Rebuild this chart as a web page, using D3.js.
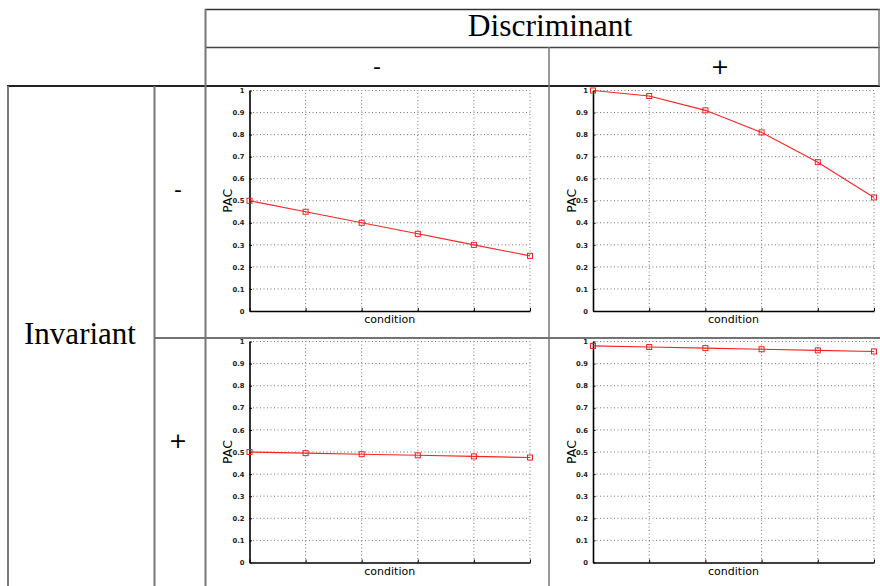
<!DOCTYPE html>
<html>
<head>
<meta charset="utf-8">
<script src="https://cdn.jsdelivr.net/npm/d3@7/dist/d3.min.js"></script>
<style>
  html, body { margin: 0; padding: 0; background: #fff; }
  svg { display: block; }
</style>
</head>
<body>
<svg id="chart" width="880" height="586"></svg>
<script>
// Condition index along the x axis (six levels, unlabeled)
const conditions = [1, 2, 3, 4, 5, 6];
// PAC axis ticks
const pacTicks = [0, 0.1, 0.2, 0.3, 0.4, 0.5, 0.6, 0.7, 0.8, 0.9, 1];
const pacTickLabels = ["0", "0.1", "0.2", "0.3", "0.4", "0.5", "0.6", "0.7", "0.8", "0.9", "1"];

// PAC per condition for each Invariant / Discriminant combination
const pacInvMinusDiscMinus = [0.50, 0.45, 0.40, 0.35, 0.30, 0.25];
const pacInvMinusDiscPlus  = [1.00, 0.975, 0.91, 0.81, 0.675, 0.515];
const pacInvPlusDiscMinus  = [0.50, 0.495, 0.49, 0.485, 0.48, 0.475];
const pacInvPlusDiscPlus   = [0.98, 0.975, 0.97, 0.965, 0.96, 0.955];

// Header labels
const columnTitle = "Discriminant";
const rowTitle = "Invariant";
const levelLabels = ["-", "+"];

const svg = d3.select("#chart");

// ---- table frame ----
const frame = svg.append("g");
const grey = "#777", dark = "#333";
function line(x1, y1, x2, y2, color, w) {
  frame.append("line").attr("x1", x1).attr("y1", y1).attr("x2", x2).attr("y2", y2)
    .attr("stroke", color).attr("stroke-width", w);
}
line(205, 9.5, 880, 9.5, dark, 1.5);        // top of column header
line(205, 47.5, 880, 47.5, "#444", 1.5);    // under "Discriminant"
line(7, 86, 880, 86, "#222", 2);            // under level header row
line(154, 338, 880, 338, "#444", 1.5);      // between row levels
line(205.5, 9, 205.5, 586, grey, 2);
line(549, 47, 549, 586, grey, 1.5);
line(879, 9, 879, 86, grey, 1.5);
line(8, 86, 8, 586, grey, 2);
line(154.5, 86, 154.5, 586, grey, 2);

const serif = "'Liberation Serif', 'Times New Roman', serif";
const sans = "'DejaVu Sans', sans-serif";

svg.append("text").attr("x", 550).attr("y", 36).attr("text-anchor", "middle")
  .attr("font-family", serif).attr("font-size", 31.5).attr("fill", "#000").text(columnTitle);
svg.append("text").attr("x", 80).attr("y", 344).attr("text-anchor", "middle")
  .attr("font-family", serif).attr("font-size", 31).attr("fill", "#000").text(rowTitle);

const colCenters = [377, 720];
const rowCenters = [189, 440];
levelLabels.forEach((lab, i) => {
  svg.append("text").attr("x", colCenters[i]).attr("y", 66).attr("text-anchor", "middle")
    .attr("dominant-baseline", "central")
    .attr("font-family", sans).attr("font-size", 22).attr("fill", "#000").text(lab);
  svg.append("text").attr("x", 178).attr("y", rowCenters[i]).attr("text-anchor", "middle")
    .attr("dominant-baseline", "central")
    .attr("font-family", sans).attr("font-size", 22).attr("fill", "#000").text(lab);
});

// ---- small multiples ----
const panels = [
  { values: pacInvMinusDiscMinus, x0: 249.5, x1: 530, y0: 311, y1: 90.5 },
  { values: pacInvMinusDiscPlus,  x0: 593, x1: 874, y0: 311, y1: 90.5 },
  { values: pacInvPlusDiscMinus,  x0: 249.5, x1: 530, y0: 562.5, y1: 341.5 },
  { values: pacInvPlusDiscPlus,   x0: 593, x1: 874, y0: 562.5, y1: 341.5 }
];

panels.forEach(p => {
  const x = d3.scaleLinear().domain(d3.extent(conditions)).range([p.x0, p.x1]);
  const y = d3.scaleLinear().domain([0, 1]).range([p.y0, p.y1]);
  const g = svg.append("g");

  // dotted grid
  g.append("g").selectAll("line").data(pacTicks.slice(1)).join("line")
    .attr("x1", p.x0).attr("x2", p.x1).attr("y1", d => y(d)).attr("y2", d => y(d))
    .attr("stroke", "#777").attr("stroke-width", 1).attr("stroke-dasharray", "1,2.5");
  g.append("g").selectAll("line").data(conditions.slice(1)).join("line")
    .attr("x1", d => x(d)).attr("x2", d => x(d)).attr("y1", p.y0).attr("y2", p.y1)
    .attr("stroke", "#777").attr("stroke-width", 1).attr("stroke-dasharray", "1,2.5");

  // y axis (ticks point inward)
  const yAxis = d3.axisLeft(y).tickValues(pacTicks)
    .tickFormat((d, i) => pacTickLabels[i]).tickSizeInner(-2.5).tickSizeOuter(0).tickPadding(5);
  const ya = g.append("g").attr("transform", `translate(${p.x0},0)`).call(yAxis);
  ya.select(".domain").attr("stroke", "#000").attr("stroke-width", 1.6);
  ya.selectAll(".tick line").attr("stroke", "#000");
  ya.selectAll(".tick text").attr("font-family", sans).attr("font-size", 6.8)
    .attr("fill", "#222").attr("font-weight", "bold");

  // x axis: unlabeled ticks pointing up
  const xAxis = d3.axisBottom(x).tickValues(conditions).tickFormat("")
    .tickSizeInner(-3).tickSizeOuter(0);
  const xa = g.append("g").attr("transform", `translate(0,${p.y0})`).call(xAxis);
  xa.select(".domain").attr("stroke", "#000").attr("stroke-width", 1.6);
  xa.selectAll(".tick line").attr("stroke", "#000");

  // axis titles
  g.append("text").attr("transform", `translate(${p.x0 - 17.5},${(p.y0 + p.y1) / 2}) rotate(-90)`)
    .attr("text-anchor", "middle").attr("font-family", sans).attr("font-size", 12.5)
    .attr("fill", "#000").text("PAC");
  g.append("text").attr("x", (p.x0 + p.x1) / 2).attr("y", p.y0 + 12)
    .attr("text-anchor", "middle").attr("font-family", sans).attr("font-size", 11)
    .attr("fill", "#000").text("condition");

  // series
  const pts = conditions.map((c, i) => [c, p.values[i]]);
  g.append("path").datum(pts)
    .attr("d", d3.line().x(d => x(d[0])).y(d => y(d[1])))
    .attr("fill", "none").attr("stroke", "#f22").attr("stroke-width", 1.1);
  g.append("g").selectAll("rect").data(pts).join("rect")
    .attr("x", d => x(d[0]) - 2.5).attr("y", d => y(d[1]) - 2.5)
    .attr("width", 5).attr("height", 5)
    .attr("fill", "none").attr("stroke", "#e22").attr("stroke-width", 1);
});
</script>
</body>
</html>
